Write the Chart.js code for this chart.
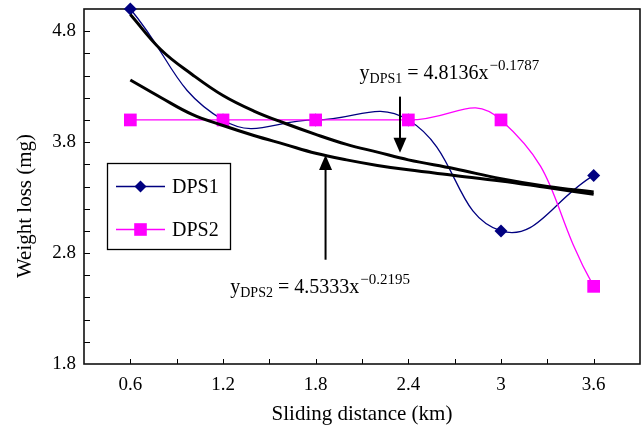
<!DOCTYPE html>
<html><head><meta charset="utf-8">
<script src="https://cdn.jsdelivr.net/npm/chart.js@4.4.1/dist/chart.umd.min.js"></script>
<style>html,body{margin:0;padding:0;background:#fff}#wrap{width:643px;height:430px;position:relative}</style>
</head><body><div id="wrap"><canvas id="c" width="643" height="430"></canvas></div>
<script>
// ---- data ----
const distance = [0.6, 1.2, 1.8, 2.4, 3.0, 3.6];
const dps1 = [5.0, 4.0, 4.0, 4.0, 3.0, 3.5];
const dps2 = [4.0, 4.0, 4.0, 4.0, 4.0, 2.5];
const fitX = [0.6, 0.8, 1.0, 1.2, 1.4, 1.6, 1.8, 2.0, 2.2, 2.4, 2.7, 3.0, 3.3, 3.6];
const fitDPS1 = [4.95, 4.63, 4.41, 4.22, 4.08, 3.97, 3.87, 3.78, 3.71, 3.64, 3.56, 3.47, 3.40, 3.35];
const fitDPS2 = [4.36, 4.20, 4.05, 3.95, 3.86, 3.78, 3.70, 3.64, 3.59, 3.55, 3.50, 3.45, 3.39, 3.33];
const xTickLabels = ['0.6', '1.2', '1.8', '2.4', '3', '3.6'];
const yTickLabels = ['1.8', '2.8', '3.8', '4.8'];
const seriesNames = ['DPS1', 'DPS2'];
const eqDPS1 = ['y', 'DPS1', ' = 4.8136x', '\u22120.1787'];
const eqDPS2 = ['y', 'DPS2', ' = 4.5333x', '\u22120.2195'];
// arrow anchors (data units): [x, yStart, yTip]
const arrowDPS1 = [2.346, 4.21, 3.705];
const arrowDPS2 = [1.864, 2.74, 3.685];
// equation anchors (data units): [x, baseline y]
const eqPos1 = [2.084, 4.369];
const eqPos2 = [1.247, 2.441];
const xTitle = 'Sliding distance (km)';
const yTitle = 'Weight loss (mg)';

const FONT = '"Liberation Serif","Times New Roman",serif';
const BLUE = '#000080', PINK = '#FF00FF';

const pts = (xs, ys) => xs.map((v, i) => ({x: v, y: ys[i]}));
const matchLabel = (v, labels) => {
  const l = labels.find(s => Math.abs(parseFloat(s) - v) < 1e-6);
  return l === undefined ? '' : l;
};

function diamond(ctx, x, y, r, color) {
  ctx.beginPath(); ctx.moveTo(x, y - r); ctx.lineTo(x + r, y); ctx.lineTo(x, y + r); ctx.lineTo(x - r, y); ctx.closePath();
  ctx.fillStyle = color; ctx.fill();
}
function square(ctx, x, y, h, color) { ctx.fillStyle = color; ctx.fillRect(x - h, y - h, 2 * h, 2 * h); }

function drawEq(ctx, parts, x, y) {
  ctx.textAlign = 'left'; ctx.textBaseline = 'alphabetic'; ctx.fillStyle = '#000';
  ctx.font = '20px ' + FONT; ctx.fillText(parts[0], x, y); x += ctx.measureText(parts[0]).width;
  ctx.font = '14px ' + FONT; ctx.fillText(parts[1], x, y + 4); x += ctx.measureText(parts[1]).width;
  ctx.font = '20px ' + FONT; ctx.fillText(parts[2], x, y); x += ctx.measureText(parts[2]).width + 1;
  ctx.font = '15px ' + FONT; ctx.fillText(parts[3], x, y - 9);
}
function drawArrow(ctx, xs, ys, a) {
  const px = xs.getPixelForValue(a[0]);
  const y0 = ys.getPixelForValue(a[1]), y1 = ys.getPixelForValue(a[2]);
  const dir = y1 > y0 ? 1 : -1;
  ctx.strokeStyle = '#000'; ctx.lineWidth = 2;
  ctx.beginPath(); ctx.moveTo(px, y0); ctx.lineTo(px, y1 - dir * 12); ctx.stroke();
  ctx.beginPath(); ctx.moveTo(px, y1); ctx.lineTo(px - 6.5, y1 - dir * 15); ctx.lineTo(px + 6.5, y1 - dir * 15); ctx.closePath();
  ctx.fillStyle = '#000'; ctx.fill();
}

const deco = {
  id: 'deco',
  beforeDatasetsDraw(chart) {
    const {ctx, chartArea: a, scales: {x, y}} = chart;
    ctx.save();
    ctx.strokeStyle = '#000'; ctx.lineWidth = 1;
    x.ticks.forEach(t => {
      if (t.value <= x.min + 1e-6 || t.value >= x.max - 1e-6) return;
      const p = Math.round(x.getPixelForValue(t.value)) + 0.5;
      ctx.beginPath(); ctx.moveTo(p, a.bottom); ctx.lineTo(p, a.bottom - 5); ctx.stroke();
    });
    y.ticks.forEach(t => {
      if (t.value <= y.min + 1e-6 || t.value >= y.max - 1e-6) return;
      const p = Math.round(y.getPixelForValue(t.value)) + 0.5;
      ctx.beginPath(); ctx.moveTo(a.left, p); ctx.lineTo(a.left + 6, p); ctx.stroke();
    });
    ctx.lineWidth = 1.6; ctx.strokeStyle = '#111';
    ctx.strokeRect(a.left, a.top, a.right - a.left, a.bottom - a.top);
    ctx.restore();
  },
  afterDraw(chart) {
    const {ctx, chartArea: a, scales: {x, y}} = chart;
    ctx.save();
    // legend
    const lx = 107, ly = 163, lw = 123, lh = 86;
    ctx.fillStyle = '#fff'; ctx.fillRect(lx, ly, lw, lh);
    ctx.strokeStyle = '#000'; ctx.lineWidth = 1.3; ctx.strokeRect(lx + 0.5, ly + 0.5, lw, lh);
    const rows = [ly + 23.5, ly + 66.5];
    const cols = [BLUE, PINK];
    rows.forEach((ry, i) => {
      ctx.strokeStyle = cols[i]; ctx.lineWidth = 1.3;
      ctx.beginPath(); ctx.moveTo(116, ry); ctx.lineTo(165, ry); ctx.stroke();
      if (i === 0) diamond(ctx, 140.5, ry, 6, BLUE); else square(ctx, 140.5, ry, 6.3, PINK);
      ctx.fillStyle = '#000'; ctx.font = '20px ' + FONT; ctx.textAlign = 'left'; ctx.textBaseline = 'middle';
      ctx.fillText(seriesNames[i], 172, ry + 1);
    });
    // arrows
    drawArrow(ctx, x, y, arrowDPS1);
    drawArrow(ctx, x, y, arrowDPS2);
    // equations
    drawEq(ctx, eqDPS1, x.getPixelForValue(eqPos1[0]), y.getPixelForValue(eqPos1[1]));
    drawEq(ctx, eqDPS2, x.getPixelForValue(eqPos2[0]), y.getPixelForValue(eqPos2[1]));
    // axis titles
    ctx.fillStyle = '#000'; ctx.font = '21px ' + FONT; ctx.textAlign = 'center'; ctx.textBaseline = 'alphabetic';
    ctx.fillText(xTitle, (a.left + a.right) / 2, 420);
    ctx.translate(31, 206); ctx.rotate(-Math.PI / 2);
    ctx.fillText(yTitle, 0, 0);
    ctx.restore();
  }
};

new Chart(document.getElementById('c'), {
  type: 'line',
  data: {
    datasets: [
      {label: 'fit DPS1', data: pts(fitX, fitDPS1), borderColor: '#000', borderWidth: 3, pointRadius: 0, tension: 0.4, fill: false, clip: false},
      {label: 'fit DPS2', data: pts(fitX, fitDPS2), borderColor: '#000', borderWidth: 3, pointRadius: 0, tension: 0.4, fill: false, clip: false},
      {label: seriesNames[1], data: pts(distance, dps2), borderColor: PINK, backgroundColor: PINK, borderWidth: 1.3,
       pointStyle: 'rect', pointRadius: 9, pointBorderWidth: 0, tension: 0.5, fill: false, clip: false},
      {label: seriesNames[0], data: pts(distance, dps1), borderColor: BLUE, backgroundColor: BLUE, borderWidth: 1.3,
       pointStyle: 'rectRot', pointRadius: 6.5, pointBorderWidth: 0, tension: 0.45, fill: false, clip: false}
    ]
  },
  options: {
    responsive: false, animation: false, devicePixelRatio: 1,
    layout: {autoPadding: false, padding: {left: 0, right: 3, top: 9, bottom: 0}},
    plugins: {legend: {display: false}, tooltip: {enabled: false}},
    scales: {
      x: {type: 'linear', min: 0.3, max: 3.9,
        afterFit: s => { s.height = 66; s.paddingLeft = 0; s.paddingRight = 0; },
        grid: {display: false, drawTicks: false}, border: {display: false},
        ticks: {stepSize: 0.3, autoSkip: false, maxRotation: 0, padding: 10, color: '#000',
          font: {family: FONT, size: 19}, callback: v => matchLabel(Math.round(v * 10) / 10, xTickLabels)}},
      y: {type: 'linear', min: 1.8, max: 5.0,
        afterFit: s => { s.width = 84; s.paddingTop = 0; s.paddingBottom = 0; },
        grid: {display: false, drawTicks: false}, border: {display: false},
        ticks: {stepSize: 0.2, autoSkip: false, padding: 8, color: '#000',
          font: {family: FONT, size: 19}, callback: v => matchLabel(Math.round(v * 10) / 10, yTickLabels)}}
    }
  },
  plugins: [deco]
});
</script>
</body></html>
